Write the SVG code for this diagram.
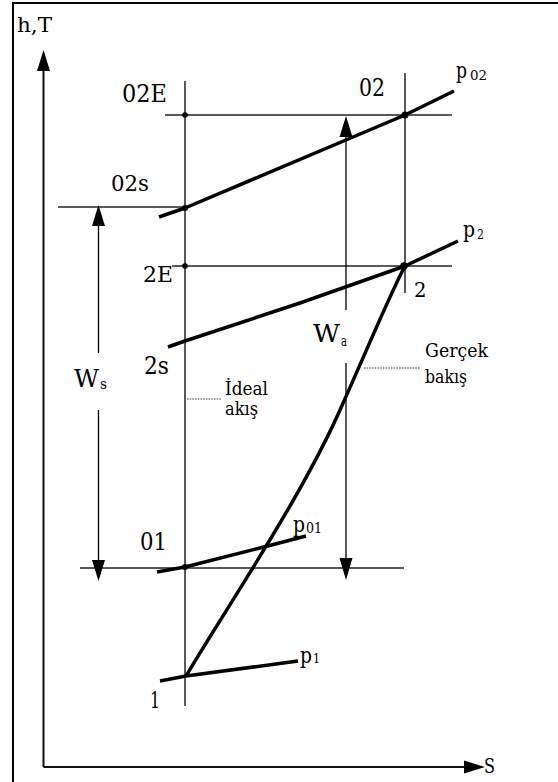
<svg xmlns="http://www.w3.org/2000/svg" width="558" height="782" viewBox="0 0 558 782">
<style>
.thin{stroke:#222;stroke-width:1.5;fill:none}
.shaft{stroke:#000;stroke-width:1.3;fill:none}
.thick{stroke:#000;stroke-width:3.5;fill:none;stroke-linejoin:round;stroke-linecap:butt}
.dot{fill:#000}
.lead{stroke:#333;stroke-width:1;stroke-dasharray:1.5 1.2;fill:none}
</style>
<rect width="558" height="782" fill="#fff"/>
<g id="frame">
<line x1="13" y1="3" x2="13" y2="782" stroke="#000" stroke-width="2"/>
<line x1="12" y1="3" x2="558" y2="3" stroke="#000" stroke-width="2"/>
</g>
<g id="axes" font-family="'DejaVu Serif', serif" fill="#000">
<line x1="43.5" y1="767" x2="43.5" y2="68" stroke="#111" stroke-width="2"/>
<polygon points="43.5,50 37,71 50,71" fill="#000"/>
<line x1="43.5" y1="767" x2="466" y2="767" stroke="#111" stroke-width="2"/>
<polygon points="485,767 464,760.5 464,773.5" fill="#000"/>
<text x="17" y="32" font-size="20" textLength="35" lengthAdjust="spacingAndGlyphs">h,T</text>
<text x="484" y="773" font-size="20" textLength="11" lengthAdjust="spacingAndGlyphs">S</text>
</g>
<g id="connectors">
<line class="thin" x1="185" y1="81" x2="185" y2="706"/>
<line class="thin" x1="405" y1="73" x2="405" y2="293"/>
<line class="thin" x1="165" y1="115" x2="452" y2="115"/>
<line class="thin" x1="58" y1="207" x2="185" y2="207"/>
<line class="thin" x1="172" y1="266" x2="452" y2="266"/>
<line class="thin" x1="80" y1="568" x2="404" y2="568"/>
<polyline class="thick" points="159,217 185,208 405,115 454,91"/>
<polyline class="thick" points="168,347 185,341 300,303 405,266 458,241"/>
<polyline class="thick" points="157,572 185,567 260,548 306,536"/>
<polyline class="thick" points="160,681 186,676 298,661"/>
<path class="thick" d="M186,676 C225,610 300,500 340,410 S392,290 405,266"/>
<g id="ws-arrow">
<line class="shaft" x1="98.5" y1="224" x2="98.5" y2="353"/>
<line class="shaft" x1="98.5" y1="410" x2="98.5" y2="563"/>
<polygon points="98.5,205 92,226 105,226" fill="#000"/>
<polygon points="98.5,581 92,560 105,560" fill="#000"/>
</g>
<g id="wa-arrow">
<line class="shaft" x1="346" y1="134" x2="346" y2="310"/>
<line class="shaft" x1="346" y1="363" x2="346" y2="560"/>
<polygon points="346,116 339.5,137 352.5,137" fill="#000"/>
<polygon points="346,580 339.5,558 352.5,558" fill="#000"/>
</g>
<line class="lead" x1="364" y1="368" x2="420" y2="368"/>
<line class="lead" x1="187" y1="399" x2="221" y2="399"/>
</g>
<g id="points">
<circle class="dot" cx="185" cy="115" r="2.8"/>
<circle class="dot" cx="185" cy="208" r="3"/>
<circle class="dot" cx="185" cy="266" r="2.8"/>
<circle class="dot" cx="405" cy="115" r="3.5"/>
<circle class="dot" cx="404" cy="266" r="3.8"/>
<circle class="dot" cx="185" cy="567" r="3"/>
</g>
<g id="labels" font-family="'DejaVu Serif', serif" fill="#000">
<text x="122" y="102" font-size="25" textLength="45" lengthAdjust="spacingAndGlyphs">02E</text>
<text x="359" y="96" font-size="25" textLength="26" lengthAdjust="spacingAndGlyphs">02</text>
<text x="456" y="78" font-size="22" textLength="11" lengthAdjust="spacingAndGlyphs">p</text>
<text x="470" y="80" font-size="13" textLength="17" lengthAdjust="spacingAndGlyphs">02</text>
<text x="111" y="191" font-size="23" textLength="38" lengthAdjust="spacingAndGlyphs">02s</text>
<text x="143" y="282" font-size="22" textLength="30" lengthAdjust="spacingAndGlyphs">2E</text>
<text x="144" y="374" font-size="25" textLength="25" lengthAdjust="spacingAndGlyphs">2s</text>
<text x="74" y="387" font-size="24" textLength="25" lengthAdjust="spacingAndGlyphs">W</text>
<text x="100" y="389" font-size="15" textLength="7" lengthAdjust="spacingAndGlyphs">s</text>
<text x="313" y="342" font-size="24" textLength="27" lengthAdjust="spacingAndGlyphs">W</text>
<text x="341" y="346" font-size="15" textLength="6" lengthAdjust="spacingAndGlyphs">a</text>
<text x="414" y="297" font-size="21" textLength="12.5" lengthAdjust="spacingAndGlyphs">2</text>
<text x="463" y="237" font-size="22" textLength="12" lengthAdjust="spacingAndGlyphs">p</text>
<text x="477" y="239" font-size="13" textLength="7" lengthAdjust="spacingAndGlyphs">2</text>
<text x="425" y="357" font-size="19" textLength="63" lengthAdjust="spacingAndGlyphs">Gerçek</text>
<text x="425" y="383" font-size="19" textLength="42" lengthAdjust="spacingAndGlyphs">bakış</text>
<text x="225" y="395" font-size="19" textLength="43" lengthAdjust="spacingAndGlyphs">İdeal</text>
<text x="225" y="415" font-size="19" textLength="33" lengthAdjust="spacingAndGlyphs">akış</text>
<text x="140" y="550" font-size="24" textLength="27" lengthAdjust="spacingAndGlyphs">01</text>
<text x="293" y="532" font-size="22" textLength="12" lengthAdjust="spacingAndGlyphs">p</text>
<text x="306" y="533" font-size="14" textLength="16" lengthAdjust="spacingAndGlyphs">01</text>
<text x="300" y="663" font-size="22" textLength="12" lengthAdjust="spacingAndGlyphs">p</text>
<text x="313" y="663" font-size="13" textLength="7" lengthAdjust="spacingAndGlyphs">1</text>
<text x="150" y="708" font-size="23" textLength="10" lengthAdjust="spacingAndGlyphs">1</text>
</g>
</svg>
